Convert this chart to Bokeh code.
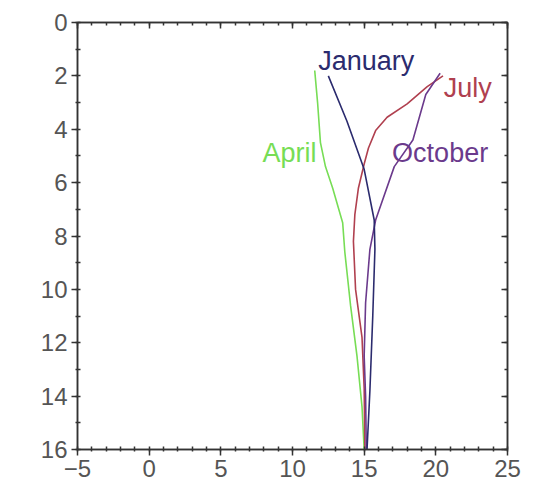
from bokeh.plotting import figure
from bokeh.models import Range1d, LinearAxis, SingleIntervalTicker, CustomLabelingPolicy
from bokeh.core.properties import value
from bokeh.embed import file_html
from bokeh.resources import INLINE

# Data (temperature vs depth)
jan_x = [12.5, 13.8, 15.0, 15.7, 15.75, 15.6, 15.4, 15.2]
jan_y = [2.0, 3.7, 5.5, 7.4, 8.5, 11.0, 13.8, 16.0]

apr_x = [11.55, 11.75, 11.95, 12.3, 12.8, 13.5, 13.65, 14.05, 14.5, 14.85, 15.0]
apr_y = [1.8, 3.0, 4.5, 5.4, 6.2, 7.5, 8.6, 10.6, 12.5, 14.4, 16.0]

jul_x = [20.5, 19.4, 18.0, 16.6, 15.8, 15.3, 15.0, 14.6, 14.35, 14.25, 14.4, 14.85, 15.0, 15.05]
jul_y = [2.0, 2.4, 3.05, 3.55, 4.05, 4.7, 5.3, 6.2, 7.2, 8.2, 10.0, 11.8, 13.7, 16.0]

oct_x = [20.3, 19.3, 18.4, 17.1, 15.8, 15.4, 15.1, 15.0, 15.1, 15.15]
oct_y = [1.9, 2.7, 4.4, 5.4, 7.4, 8.5, 10.5, 12.5, 14.0, 16.0]

label_text = ["January", "July", "April", "October"]
label_x = [11.8, 20.55, 7.9, 16.95]
label_y = [1.45, 2.47, 4.9, 4.9]
colors = ["#2b2b6e", "#b0404f", "#77dd55", "#6b3a8c"]

FONT = "Liberation Sans"
AX = "#333333"
LBL = "#555555"

p = figure(frame_width=430, frame_height=427, output_backend="svg",
           toolbar_location=None, x_range=Range1d(-5, 25), y_range=Range1d(16, 0),
           min_border_left=77, min_border_top=22, min_border_right=12, min_border_bottom=38,
           background_fill_color="white", border_fill_color="white")
p.grid.visible = False
p.outline_line_color = AX
p.outline_line_width = 1.5

xt = SingleIntervalTicker(interval=5, num_minor_ticks=5)
yt = SingleIntervalTicker(interval=2, num_minor_ticks=2)

no_labels = CustomLabelingPolicy(code="return new Set()")

def style(ax, labels=True, inward=False):
    ax.axis_line_color = AX
    ax.axis_line_width = 1.5
    ax.major_tick_line_color = AX
    ax.minor_tick_line_color = AX
    ax.major_tick_line_width = 1.5
    ax.minor_tick_line_width = 1.5
    if inward:
        ax.major_tick_in = 6
        ax.major_tick_out = 0
        ax.minor_tick_in = 3
        ax.minor_tick_out = 0
    else:
        ax.major_tick_in = 0
        ax.major_tick_out = 6
        ax.minor_tick_in = 3
        ax.minor_tick_out = 2
    if labels:
        ax.major_label_text_font = FONT
        ax.major_label_text_font_size = "24px"
        ax.major_label_text_color = LBL
        ax.major_label_standoff = 4
    else:
        ax.major_label_policy = no_labels
        ax.major_label_standoff = 0

p.xaxis.ticker = xt
p.yaxis.ticker = yt
style(p.xaxis[0])
style(p.yaxis[0])

top = LinearAxis(ticker=SingleIntervalTicker(interval=5, num_minor_ticks=5))
style(top, labels=False, inward=True)
p.add_layout(top, "above")
right = LinearAxis(ticker=SingleIntervalTicker(interval=2, num_minor_ticks=2))
style(right, labels=False, inward=True)
p.add_layout(right, "right")

for xs, ys, c in [(apr_x, apr_y, colors[2]), (jul_x, jul_y, colors[1]),
                  (oct_x, oct_y, colors[3]), (jan_x, jan_y, colors[0])]:
    p.line(xs, ys, line_color=c, line_width=1.6)

p.text(x=label_x, y=label_y, text=label_text, text_color=colors,
       text_font=value(FONT), text_font_size="27px",
       text_align="left", text_baseline="middle")

open("out.html", "w").write(file_html(p, INLINE))
